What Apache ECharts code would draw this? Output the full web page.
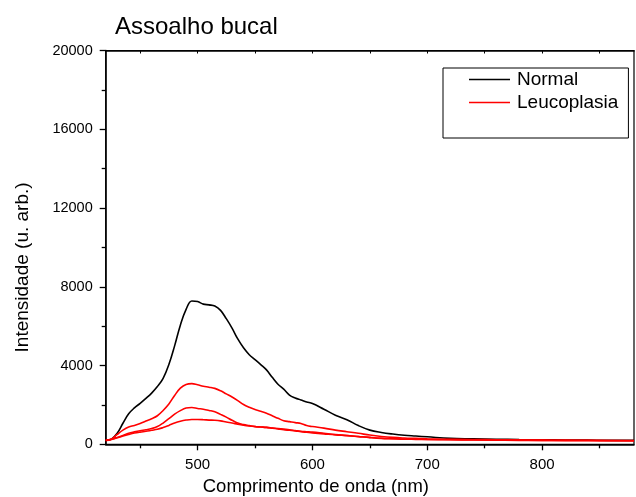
<!DOCTYPE html>
<html>
<head>
<meta charset="utf-8">
<script src="https://cdn.jsdelivr.net/npm/echarts@6/dist/echarts.min.js"></script>
<style>html,body{margin:0;padding:0;background:#fff}#c{width:636px;height:497px}</style>
</head>
<body>
<div id="c"></div>
<script>
const wavelength = [420,425,430,435,440,445,450,455,460,465,470,475,480,485,490,495,500,505,510,515,520,525,530,535,540,545,550,555,560,565,570,575,580,585,590,595,600,610,620,630,640,650,660,670,680,690,700,720,740,760,780,800,820,840,860,880];
const normal = [200,260,560,1070,1550,1850,2080,2330,2600,2930,3350,4050,5000,6050,6850,7280,7250,7120,7080,7020,6800,6380,5900,5350,4900,4550,4300,4050,3780,3400,3050,2800,2500,2350,2250,2150,2070,1780,1480,1250,950,720,600,520,460,420,380,300,280,260,240,230,220,210,200,200];
const leuco1 = [200,260,500,720,880,960,1060,1180,1300,1450,1720,2050,2480,2850,3040,3080,3020,2950,2900,2840,2720,2560,2400,2220,2020,1880,1770,1680,1580,1450,1320,1200,1150,1100,1060,950,900,820,720,640,560,470,400,350,320,300,280,250,240,230,220,210,200,200,190,190];
const leuco2 = [200,260,350,450,560,630,690,740,800,900,1080,1300,1530,1710,1840,1870,1820,1780,1720,1650,1520,1380,1220,1080,1000,950,900,880,860,820,780,740,710,680,640,610,580,530,480,440,390,340,300,280,260,250,240,230,220,210,200,200,190,190,180,180];
const leuco3 = [200,250,330,420,500,570,620,660,710,760,850,960,1080,1170,1230,1260,1260,1250,1230,1220,1190,1130,1080,1020,970,930,900,880,860,830,800,770,740,700,660,640,620,560,500,450,400,350,310,290,270,260,250,240,230,220,210,200,200,190,190,180];
const yTicks = [0,4000,8000,12000,16000,20000];
const xMajor = [500,600,700,800];
const xMinor = [450,550,650,750,850];

const pairs = arr => wavelength.map((w,i)=>[w,arr[i]]);
const FONT = 'Liberation Sans, Arial, sans-serif';
const chart = echarts.init(document.getElementById('c'));
chart.setOption({
  animation:false,
  title:{text:'Assoalho bucal',left:110,top:10,textStyle:{fontSize:24,fontWeight:'normal',color:'#000',fontFamily:FONT}},
  legend:{
    data:['Normal','Leucoplasia'],
    left:443, top:68, orient:'vertical',
    borderColor:'#000', borderWidth:1, padding:[2,10,26,26], itemGap:4,
    icon:'rect', itemWidth:41, itemHeight:1.5,
    textStyle:{fontSize:19,color:'#000',fontFamily:FONT,padding:[0,0,0,2]}
  },
  grid:{left:105.7,right:2,top:50.5,bottom:52.7,show:true,borderColor:'#000',borderWidth:1.2,containLabel:false,outerBoundsMode:'none'},
  xAxis:[{
    type:'value',min:420,max:880,position:'bottom',
    name:'Comprimento de onda (nm)',nameLocation:'middle',nameGap:32,
    nameTextStyle:{fontSize:18.5,color:'#000',fontFamily:FONT,padding:[0,108,0,0]},
    axisLine:{show:true,onZero:false,lineStyle:{color:'#000',width:1.5}},
    axisTick:{show:true,inside:false,length:6,customValues:xMajor,lineStyle:{color:'#000',width:1.3}},
    axisLabel:{customValues:xMajor,fontSize:15,color:'#000',fontFamily:FONT,margin:13},
    splitLine:{show:false}
  },{
    type:'value',min:420,max:880,position:'bottom',
    axisLine:{show:false},
    axisTick:{show:true,inside:false,length:4,customValues:xMinor,lineStyle:{color:'#000',width:1.3}},
    axisLabel:{show:false},splitLine:{show:false}
  },{
    type:'value',min:420,max:880,position:'top',
    axisLine:{show:true,lineStyle:{color:'#000',width:1.5}},
    axisTick:{show:true,inside:true,length:3,customValues:xMajor.concat(xMinor),lineStyle:{color:'#000',width:1}},
    axisLabel:{show:false},splitLine:{show:false}
  }],
  yAxis:[{
    type:'value',min:0,max:20000,interval:4000,
    name:'Intensidade (u. arb.)',nameLocation:'middle',nameGap:73,
    nameTextStyle:{fontSize:19,color:'#000',fontFamily:FONT,padding:[0,40,0,0]},
    axisLine:{show:true,lineStyle:{color:'#000',width:1.5}},
    axisTick:{show:true,length:6,lineStyle:{color:'#000',width:1.3}},
    minorTick:{show:true,splitNumber:2,length:4,lineStyle:{color:'#000',width:1.3}},
    axisLabel:{fontSize:14.5,color:'#000',fontFamily:FONT,margin:13,
      formatter:v=>yTicks.includes(v)?String(v):''},
    splitLine:{show:false}
  }],
  series:[
    {name:'Normal',type:'line',data:pairs(normal),showSymbol:false,smooth:0.4,color:'#000',lineStyle:{width:1.6,color:'#000'}},
    {name:'Leucoplasia',type:'line',data:pairs(leuco1),showSymbol:false,smooth:0.4,color:'#ff0000',lineStyle:{width:1.6,color:'#ff0000'}},
    {name:'Leucoplasia',type:'line',data:pairs(leuco2),showSymbol:false,smooth:0.4,color:'#ff0000',lineStyle:{width:1.6,color:'#ff0000'}},
    {name:'Leucoplasia',type:'line',data:pairs(leuco3),showSymbol:false,smooth:0.4,color:'#ff0000',lineStyle:{width:1.6,color:'#ff0000'}}
  ]
});
</script>
</body>
</html>
